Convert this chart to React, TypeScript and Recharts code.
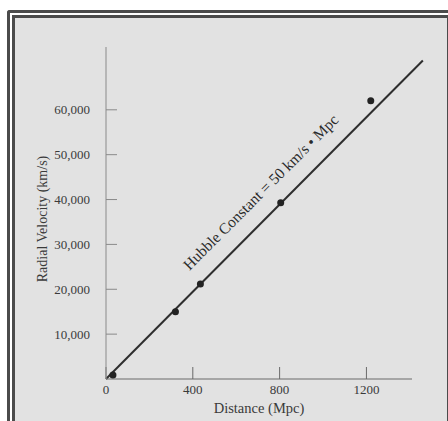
import { ComposedChart, XAxis, YAxis, Scatter, ReferenceLine, Label } from "recharts";

// galaxies: distance (Mpc) vs radial velocity (km/s)
const distance = [32, 320, 435, 805, 1220];
const velocity = [900, 15000, 21200, 39300, 62000];

// fitted line end points
const fitX = [0, 1460];
const fitY = [0, 71000];

const xTicks = [0, 400, 800, 1200];
const yTicks = [10000, 20000, 30000, 40000, 50000, 60000];

const fitLabel = "Hubble Constant = 50 km/s \u2022 Mpc";
const labelX = [730];
const labelY = [40800];

const points = distance.map((d, i) => ({ x: d, y: velocity[i] }));
const labelPoint = labelX.map((d, i) => ({ x: d, y: labelY[i] }));

const serif = "'Liberation Serif', 'DejaVu Serif', serif";
const frame = "#4b4b4b";
const ink = "#3a3a3a";

function FitLabel(props: any) {
  const { cx, cy } = props;
  return (
    <text
      x={cx}
      y={cy}
      textAnchor="middle"
      fontFamily={serif}
      fontSize={15.5}
      fill="#2a2a2a"
      stroke="none"
      transform={`rotate(-45 ${cx} ${cy})`}
    >
      {fitLabel}
    </text>
  );
}

function YLabel(props: any) {
  const { viewBox } = props;
  const cx = 47;
  const cy = viewBox.y + viewBox.height / 2 + 6;
  return (
    <text
      x={cx}
      y={cy}
      textAnchor="middle"
      fontFamily={serif}
      fontSize={14}
      fill={ink}
      stroke="none"
      transform={`rotate(-90 ${cx} ${cy})`}
    >
      Radial Velocity (km/s)
    </text>
  );
}

export default function App() {
  return (
    <div
      style={{
        position: "fixed",
        left: 0,
        top: 0,
        width: 448,
        height: 421,
        background: "#fff",
        overflow: "hidden",
      }}
    >
      {/* double frame */}
      <div
        style={{
          position: "absolute",
          left: 7,
          top: 10,
          width: 460,
          height: 430,
          borderLeft: `3px solid ${frame}`,
          borderTop: `3px solid ${frame}`,
          borderTopLeftRadius: 3,
        }}
      />
      <div
        style={{
          position: "absolute",
          left: 12,
          top: 15,
          width: 432,
          height: 430,
          border: `3px solid ${frame}`,
          background: "#e2e2e2",
        }}
      />
      <div style={{ position: "absolute", left: 0, top: 0 }}>
        <ComposedChart
          width={448}
          height={421}
          margin={{ top: 47, right: 36, bottom: 12, left: 46 }}
        >
          <XAxis
            type="number"
            dataKey="x"
            domain={[0, 1410]}
            ticks={xTicks}
            allowDataOverflow
            height={30}
            stroke="#6a6a6a"
            tickSize={-12}
            tickMargin={18}
            tick={{ fontFamily: serif, fontSize: 13, fill: ink, stroke: "none" }}
          >
            <Label
              value="Distance (Mpc)"
              position="insideBottom"
              offset={-4}
              style={{ fontFamily: serif, fontSize: 14.5, fill: ink, stroke: "none" }}
            />
          </XAxis>
          <YAxis
            type="number"
            dataKey="y"
            domain={[0, 74000]}
            ticks={yTicks}
            allowDataOverflow
            width={60}
            stroke="#8a8a8a"
            tickSize={-11}
            tickMargin={27}
            tickFormatter={(v: number) => v.toLocaleString("en-US")}
            tick={{ fontFamily: serif, fontSize: 13, fill: ink, stroke: "none" }}
          >
            <Label content={<YLabel />} />
          </YAxis>
          <ReferenceLine
            segment={[
              { x: fitX[0], y: fitY[0] },
              { x: fitX[1], y: fitY[1] },
            ]}
            ifOverflow="visible"
            stroke="#2e2e2e"
            strokeWidth={2}
          />
          <Scatter
            data={points}
            fill="#222"
            shape={(p: any) => <circle cx={p.cx} cy={p.cy} r={3.5} fill="#222" />}
            isAnimationActive={false}
          />
          <Scatter
            data={labelPoint}
            shape={(p: any) => <FitLabel {...p} />}
            isAnimationActive={false}
          />
        </ComposedChart>
      </div>
    </div>
  );
}
